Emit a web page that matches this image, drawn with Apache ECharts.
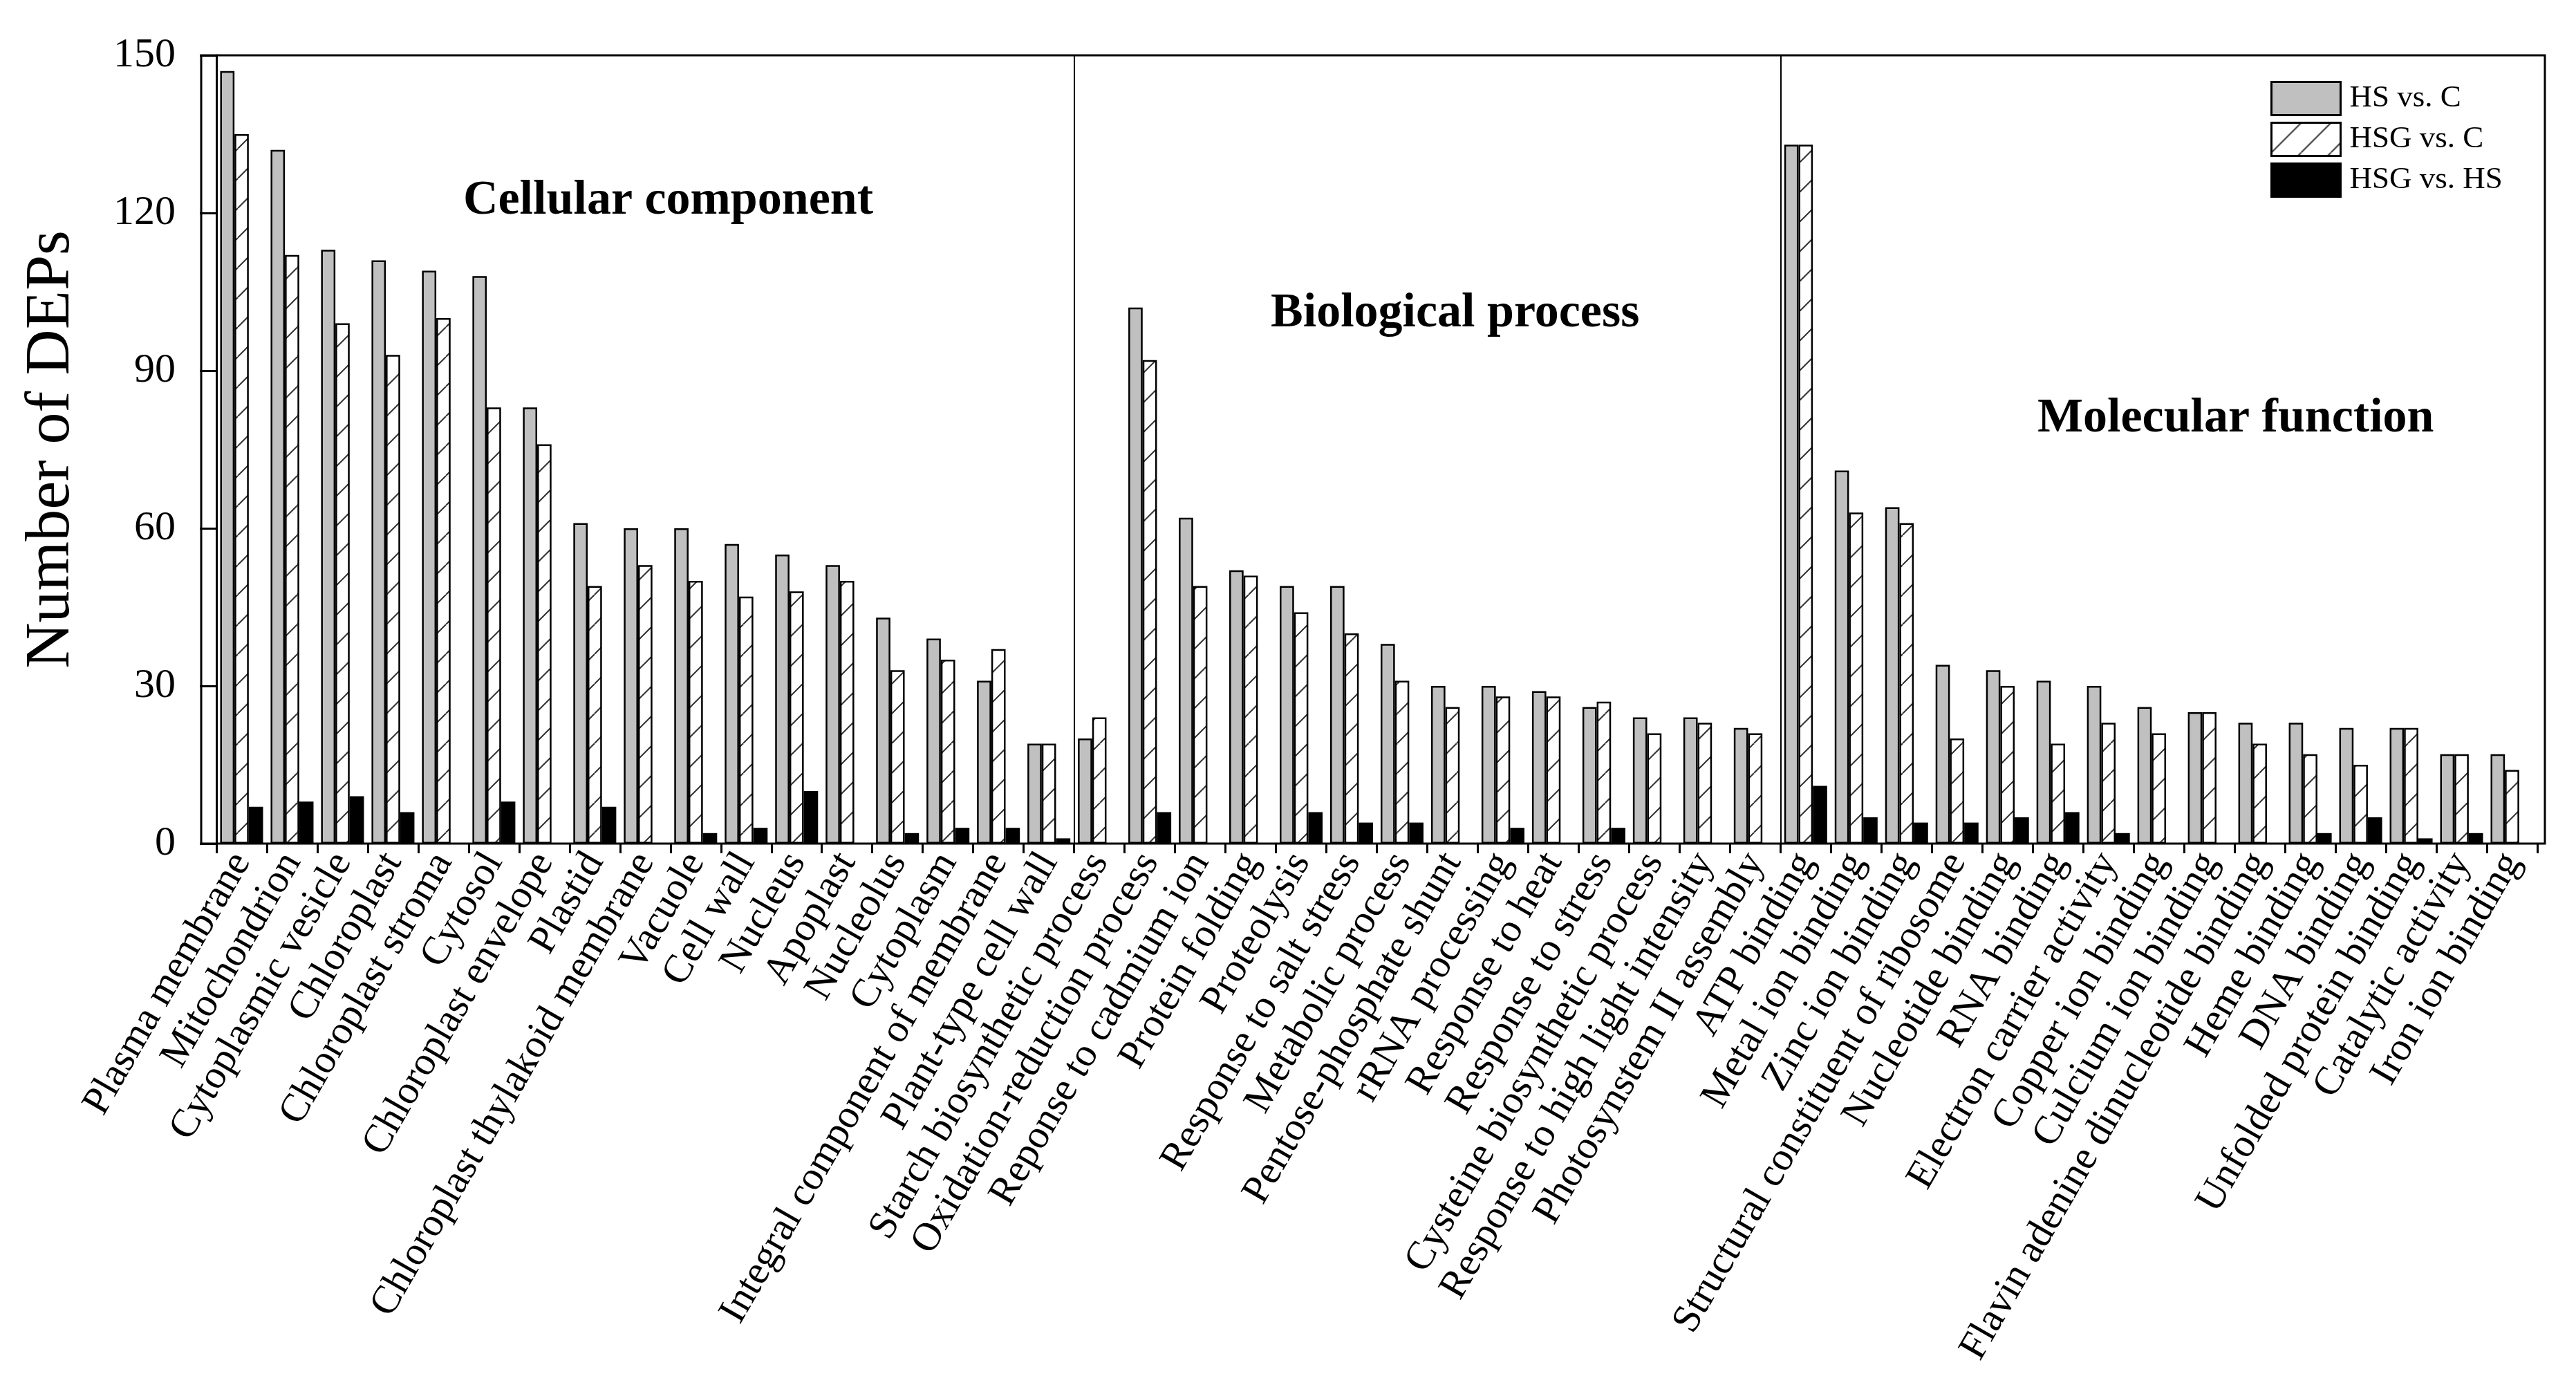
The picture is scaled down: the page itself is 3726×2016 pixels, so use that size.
<!DOCTYPE html>
<html>
<head>
<meta charset="utf-8">
<script src="https://cdn.jsdelivr.net/npm/echarts@6.0.0/dist/echarts.min.js"></script>
<style>
  html, body { margin: 0; padding: 0; background: #fff; }
  #chart { width: 3726px; height: 2016px; }
</style>
</head>
<body>
<div id="chart"></div>
<script>
const categories = [
  'Plasma membrane', 'Mitochondrion', 'Cytoplasmic vesicle', 'Chloroplast', 'Chloroplast stroma',
  'Cytosol', 'Chloroplast envelope', 'Plastid', 'Chloroplast thylakoid membrane', 'Vacuole',
  'Cell wall', 'Nucleus', 'Apoplast', 'Nucleolus', 'Cytoplasm',
  'Integral component of membrane', 'Plant-type cell wall',
  'Starch biosynthetic process', 'Oxidation-reduction process', 'Reponse to cadmium ion',
  'Protein folding', 'Proteolysis', 'Response to salt stress', 'Metabolic process',
  'Pentose-phosphate shunt', 'rRNA processing', 'Response to heat', 'Response to stress',
  'Cysteine biosynthetic process', 'Response to high light intensity', 'Photosynstem II assembly',
  'ATP binding', 'Metal ion binding', 'Zinc ion binding', 'Structural constituent of ribosome',
  'Nucleotide binding', 'RNA binding', 'Electron carrier activity', 'Copper ion binding',
  'Culcium ion binding', 'Flavin adenine dinucleotide binding', 'Heme binding', 'DNA binding',
  'Unfolded protein binding', 'Catalytic activity', 'Iron ion binding'
]

const hsVsC = [
  147, 132, 113, 111, 109, 108, 83, 61, 60, 60, 57, 55, 53, 43, 39, 31, 19,
  20, 102, 62, 52, 49, 49, 38, 30, 30, 29, 26, 24, 24, 22,
  133, 71, 64, 34, 33, 31, 30, 26, 25, 23, 23, 22, 22, 17, 17
]
const hsgVsC = [
  135, 112, 99, 93, 100, 83, 76, 49, 53, 50, 47, 48, 50, 33, 35, 37, 19,
  24, 92, 49, 51, 44, 40, 31, 26, 28, 28, 27, 21, 23, 21,
  133, 63, 61, 20, 30, 19, 23, 21, 25, 19, 17, 15, 22, 17, 14
]
const hsgVsHs = [
  7, 8, 9, 6, 0, 8, 0, 7, 0, 2, 3, 10, 0, 2, 3, 3, 1,
  0, 6, 0, 0, 6, 4, 4, 0, 3, 0, 3, 0, 0, 0,
  11, 5, 4, 4, 5, 6, 2, 0, 0, 0, 2, 5, 1, 2, 0
]

const seriesNames = ['HS vs. C', 'HSG vs. C', 'HSG vs. HS']
// category index where each GO section starts (divider sits on its left edge)
const sectionStarts = [17, 31]
const sectionTitles = ['Cellular component', 'Biological process', 'Molecular function']
const yTicks = [0, 30, 60, 90, 120, 150]

const serif = '"Liberation Serif", "Times New Roman", serif'

// frame and bar area (pixels)
const frame = { left: 291, right: 3681, top: 80, bottom: 1220 }
const barArea = { left: 313, right: 3670 }
const band = (barArea.right - barArea.left) / categories.length

// diagonal hatch for the middle series
const hatch = document.createElement('canvas')
hatch.width = 43
hatch.height = 43
const hctx = hatch.getContext('2d')
hctx.fillStyle = '#fff'
hctx.fillRect(0, 0, 43, 43)
hctx.strokeStyle = '#333'
hctx.lineWidth = 2
for (let k = -1; k <= 1; k++) {
  hctx.beginPath()
  hctx.moveTo(k * 43, 43)
  hctx.lineTo(k * 43 + 43, 0)
  hctx.stroke()
}

const chart = echarts.init(document.getElementById('chart'))

const barBase = {
  type: 'bar',
  xAxisIndex: 0,
  yAxisIndex: 0,
  barGap: '0%',
  barCategoryGap: '15%',
  animation: false,
}

const titleFont = 'bold 70px ' + serif

chart.setOption({
  animation: false,
  backgroundColor: '#fff',
  grid: [
    {
      left: barArea.left, right: 3726 - barArea.right,
      top: frame.top, bottom: 2016 - frame.bottom,
    },
    {
      left: frame.left, right: 3726 - frame.right,
      top: frame.top, bottom: 2016 - frame.bottom,
      show: true, borderColor: '#000', borderWidth: 3, backgroundColor: 'transparent',
    },
  ],
  xAxis: [
    {
      type: 'category',
      gridIndex: 0,
      data: categories,
      boundaryGap: true,
      axisLine: { show: false },
      axisTick: { show: true, inside: false, length: 14, lineStyle: { color: '#000', width: 3 } },
      axisLabel: {
        interval: 0, rotate: 60, margin: 18,
        color: '#000', fontSize: 58, fontFamily: serif,
      },
      splitLine: { show: false },
    },
    {
      type: 'value',
      gridIndex: 1,
      min: (frame.left - barArea.left) / band,
      max: (frame.right - barArea.left) / band,
      show: false,
    },
  ],
  yAxis: [
    { type: 'value', gridIndex: 0, min: 0, max: 150, interval: 30, show: false },
    {
      type: 'value',
      gridIndex: 1,
      min: yTicks[0],
      max: yTicks[yTicks.length - 1],
      interval: 30,
      name: 'Number of DEPs',
      nameLocation: 'middle',
      nameGap: 170,
      nameTextStyle: { color: '#000', fontSize: 92, fontFamily: serif },
      axisLine: { show: true, lineStyle: { color: '#000', width: 3 } },
      axisTick: { show: true, inside: false, length: 24, lineStyle: { color: '#000', width: 3 } },
      axisLabel: { color: '#000', fontSize: 60, fontFamily: serif, margin: 37 },
      splitLine: { show: false },
    },
  ],
  legend: {
    data: seriesNames,
    orient: 'vertical',
    left: 3284,
    top: 117,
    padding: 0,
    itemWidth: 100,
    itemHeight: 48,
    itemGap: 8,
    icon: 'rect',
    itemStyle: { borderColor: '#000', borderWidth: 3 },
    textStyle: { color: '#000', fontSize: 45, fontFamily: serif, padding: [0, 0, 0, 8] },
  },
  graphic: [
    { type: 'text', x: 670, y: 291, style: { text: sectionTitles[0], font: titleFont, fill: '#000', verticalAlign: 'middle' } },
    { type: 'text', x: 1838, y: 454, style: { text: sectionTitles[1], font: titleFont, fill: '#000', verticalAlign: 'middle' } },
    { type: 'text', x: 2947, y: 606, style: { text: sectionTitles[2], font: titleFont, fill: '#000', verticalAlign: 'middle' } },
  ],
  series: [
    {
      ...barBase,
      name: seriesNames[0],
      data: hsVsC,
      itemStyle: { color: '#c0c0c0', borderColor: '#000', borderWidth: 2.5 },
    },
    {
      ...barBase,
      name: seriesNames[1],
      data: hsgVsC,
      itemStyle: { color: { image: hatch, repeat: 'repeat' }, borderColor: '#000', borderWidth: 2.5 },
    },
    {
      ...barBase,
      name: seriesNames[2],
      data: hsgVsHs,
      itemStyle: { color: '#000', borderColor: '#000', borderWidth: 0 },
    },
    {
      type: 'line',
      name: 'dividers',
      xAxisIndex: 1,
      yAxisIndex: 1,
      data: [],
      silent: true,
      markLine: {
        silent: true,
        symbol: ['none', 'none'],
        label: { show: false },
        lineStyle: { color: '#000', width: 2, type: 'solid' },
        data: sectionStarts.map((idx) => ({ xAxis: idx })),
      },
    },
  ],
})

window.addEventListener('resize', () => chart.resize())
</script>
</body>
</html>
